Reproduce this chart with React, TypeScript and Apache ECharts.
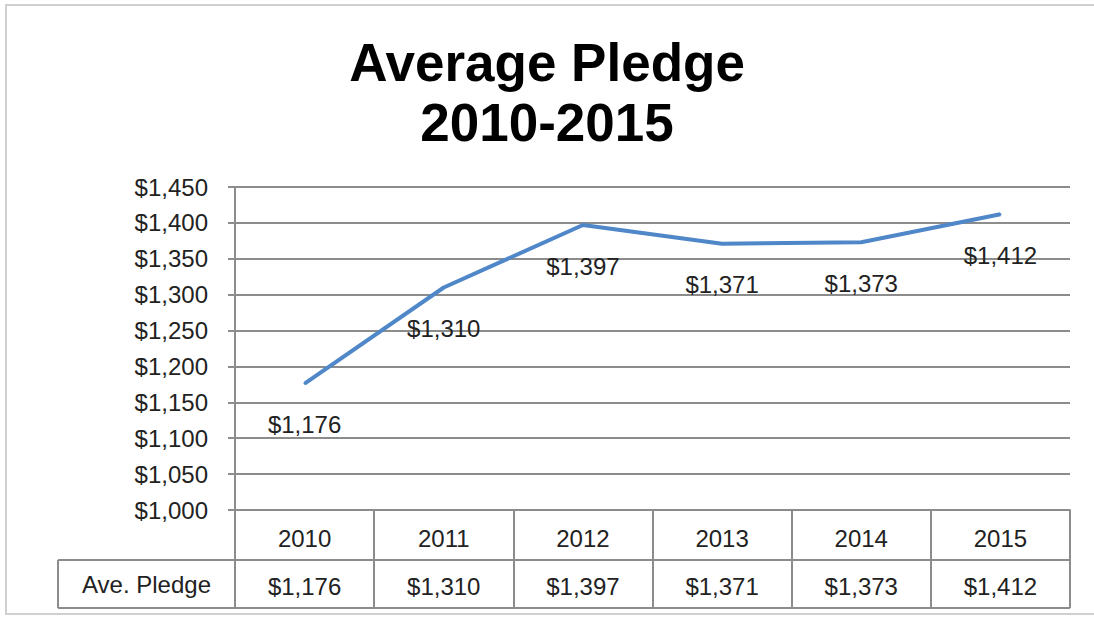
import React, { useEffect, useRef } from "react";
import * as echarts from "echarts";

const years = ["2010", "2011", "2012", "2013", "2014", "2015"];
const pledges = [1176, 1310, 1397, 1371, 1373, 1412];
const yMin = 1000;
const yMax = 1450;
const yStep = 50;
const rowLabel = "Ave. Pledge";
const titleLines = ["Average Pledge", "2010-2015"];

const fmt = (v: number) => "$" + v.toLocaleString("en-US");

export default function App() {
  const ref = useRef<HTMLDivElement>(null);
  useEffect(() => {
    if (!ref.current) return;
    const chart = echarts.init(ref.current, undefined, { renderer: "svg" });
    const gray = "#8c8c8c";
    const txt = "#222222";
    const font = "Liberation Sans, Arial, sans-serif";
    const fs = 24;
    const gridLeft = 235;
    const gridRight = 1070;
    const gridTop = 187;
    const gridBottom = 510;
    const row1 = 560;
    const row2 = 608;
    const labelLeft = 58;
    chart.setOption({
      animation: false,
      backgroundColor: "#ffffff",
      title: {
        text: titleLines.join("\n"),
        left: "center",
        top: 27,
        textStyle: {
          fontFamily: font,
          fontSize: 53,
          fontWeight: "bold",
          color: "#000000",
          lineHeight: 60,
        },
      },
      grid: {
        left: gridLeft,
        right: 1094 - gridRight,
        top: gridTop,
        bottom: 619 - gridBottom,
        containLabel: false,
      },
      xAxis: [
        {
          type: "category",
          data: years,
          position: "bottom",
          boundaryGap: true,
          axisLine: { show: true, lineStyle: { color: gray, width: 2 } },
          axisTick: { show: true, interval: 0, length: row1 - gridBottom, lineStyle: { color: gray, width: 2 } },
          axisLabel: { interval: 0, margin: 16, color: txt, fontFamily: font, fontSize: fs },
          splitLine: { show: false },
        },
        {
          type: "category",
          data: pledges.map(fmt),
          position: "bottom",
          offset: row1 - gridBottom,
          boundaryGap: true,
          axisLine: { show: true, lineStyle: { color: gray, width: 2 } },
          axisTick: { show: true, interval: 0, length: row2 - row1, lineStyle: { color: gray, width: 2 } },
          axisLabel: { interval: 0, margin: 14, color: txt, fontFamily: font, fontSize: fs },
          splitLine: { show: false },
        },
      ],
      yAxis: {
        type: "value",
        min: yMin,
        max: yMax,
        interval: yStep,
        axisLine: { show: true, lineStyle: { color: gray, width: 2 } },
        axisTick: { show: true, length: 7, lineStyle: { color: gray, width: 2 } },
        axisLabel: { margin: 27, color: txt, fontFamily: font, fontSize: fs, formatter: (v: number) => fmt(v) },
        splitLine: { show: true, lineStyle: { color: gray, width: 2 } },
      },
      series: [
        {
          type: "line",
          xAxisIndex: 0,
          data: pledges,
          symbol: "circle",
          symbolSize: 2,
          showSymbol: true,
          itemStyle: { color: "#4f87c8" },
          lineStyle: { color: "#4f87c8", width: 4 },
          label: {
            show: true,
            position: "bottom",
            distance: 28,
            color: txt,
            fontFamily: font,
            fontSize: fs,
            formatter: (p: any) => fmt(p.value),
          },
        },
      ],
      graphic: [
        {
          type: "rect",
          shape: { x: 6, y: 5, width: 1100, height: 609 },
          style: { fill: "none", stroke: "#d0d0d0", lineWidth: 2 },
          silent: true,
        },
        {
          type: "line",
          shape: { x1: labelLeft, y1: row1, x2: gridLeft, y2: row1 },
          style: { stroke: gray, lineWidth: 2 },
        },
        {
          type: "line",
          shape: { x1: labelLeft, y1: row1, x2: labelLeft, y2: row2 },
          style: { stroke: gray, lineWidth: 2 },
        },
        {
          type: "line",
          shape: { x1: labelLeft, y1: row2, x2: gridRight, y2: row2 },
          style: { stroke: gray, lineWidth: 2 },
        },
        {
          type: "text",
          x: (labelLeft + gridLeft) / 2,
          y: (row1 + row2) / 2,
          style: {
            text: rowLabel,
            fill: txt,
            font: `${fs}px ${font}`,
            align: "center",
            verticalAlign: "middle",
          },
        },
      ],
    });
    return () => chart.dispose();
  }, []);
  return (
    <div
      ref={ref}
      style={{ position: "fixed", left: 0, top: 0, width: 1094, height: 619 }}
    />
  );
}
